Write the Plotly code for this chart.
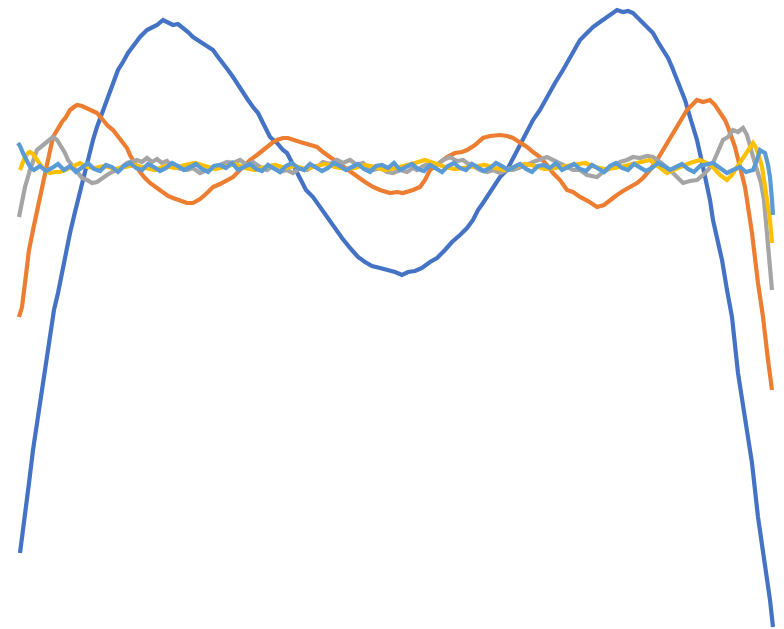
import plotly.graph_objects as go

# Readings as (sample position, displacement) pairs; displacement measured downward
blue_pts = [(20,553),(25,517),(29,483),(33,450),(38,417),(43,387),(47,360),(50,337),(54,310),(58,293),(63,267),(70,233),(75,212),(78,200),(83,180),(88,157),(93,140),(97,127),(103,110),(108,97),(113,83),(118,70),(123,62),(128,53),(134,45),(140,37),(147,30),(152,28),(157,25),(163,20),(168,23),(173,25),(178,24),(182,27),(188,32),(193,37),(198,40),(203,43),(208,46),(213,50),(218,57),(223,63),(228,70),(233,77),(238,85),(243,93),(248,100),(253,107),(258,113),(263,123),(267,132),(270,137),(277,143),(283,150),(287,153),(293,165),(300,180),(306,190),(313,197),(320,207),(327,217),(335,228),(342,238),(350,248),(358,257),(365,262),(372,266),(380,268),(388,270),(395,272),(402,275),(408,272),(415,271),(422,268),(430,262),(437,258),(445,250),(452,242),(460,235),(467,228),(473,220),(478,210),(483,203),(488,195),(493,187),(500,177),(507,170),(512,160),(517,150),(522,140),(527,130),(533,120),(540,110),(547,97),(555,83),(563,70),(570,57),(580,40),(587,33),(593,27),(600,22),(607,17),(612,13),(617,10),(623,12),(628,11),(633,13),(638,18),(643,23),(648,28),(653,33),(658,42),(663,50),(668,58),(672,67),(678,83),(685,100),(690,117),(697,140),(703,167),(710,200),(713,220),(718,240),(722,260),(727,290),(732,317),(738,373),(745,420),(752,463),(758,517),(763,550),(767,575),(770,600),(773,627)]

orange_pts = [(19,317),(22,307),(25,283),(29,250),(33,230),(39,200),(44,175),(48,160),(53,137),(58,128),(62,122),(66,117),(70,110),(74,107),(77,105),(82,106),(87,108),(92,110),(97,113),(103,120),(108,126),(113,130),(118,136),(123,143),(127,148),(130,155),(135,163),(140,172),(145,178),(150,183),(157,188),(163,193),(168,196),(173,198),(180,201),(187,203),(193,203),(200,199),(207,193),(213,187),(220,184),(227,180),(233,177),(240,170),(245,165),(250,160),(257,155),(263,150),(267,148),(272,143),(277,140),(283,138),(288,138),(293,140),(300,142),(307,144),(313,146),(317,147),(323,152),(330,157),(337,162),(343,167),(350,172),(357,177),(365,182),(373,187),(380,190),(390,193),(397,192),(403,193),(407,192),(413,190),(420,187),(425,180),(430,170),(437,165),(443,160),(447,157),(455,153),(462,152),(467,150),(475,145),(483,138),(490,136),(500,135),(507,136),(513,138),(520,142),(527,147),(533,152),(540,157),(547,165),(553,173),(560,180),(567,190),(573,192),(580,197),(588,201),(597,207),(604,205),(610,200),(617,195),(623,191),(630,187),(637,183),(643,178),(650,170),(657,160),(663,150),(670,138),(677,127),(682,118),(687,110),(692,105),(697,100),(703,102),(710,100),(715,105),(720,113),(725,120),(728,127),(732,137),(735,147),(740,167),(745,187),(747,200),(752,233),(758,283),(763,317),(768,360),(772,390)]

gray_pts = [(19,217),(22,200),(25,187),(30,170),(34,160),(37,150),(42,146),(47,142),(50,140),(53,137),(57,140),(62,147),(65,153),(68,160),(73,167),(78,173),(82,178),(87,180),(92,183),(97,182),(102,178),(107,175),(112,172),(117,170),(122,167),(127,163),(132,162),(137,160),(142,162),(147,158),(152,162),(157,159),(162,163),(167,161),(173,167),(180,168),(187,170),(193,168),(200,173),(207,170),(213,167),(220,165),(227,162),(233,163),(240,160),(247,165),(253,162),(260,167),(267,170),(273,166),(280,172),(287,170),(293,173),(300,168),(307,170),(313,166),(317,167),(323,162),(330,164),(337,160),(343,163),(350,160),(357,165),(363,163),(367,167),(373,170),(380,168),(387,172),(393,173),(400,170),(407,172),(413,168),(417,170),(423,166),(430,163),(437,165),(443,160),(450,157),(457,161),(463,160),(467,163),(473,166),(480,170),(487,172),(493,170),(500,173),(507,170),(513,170),(520,168),(527,165),(533,162),(540,160),(547,157),(553,160),(560,163),(567,167),(573,170),(580,170),(587,175),(593,176),(597,177),(603,172),(608,170),(613,167),(620,162),(627,160),(633,157),(640,158),(647,156),(653,157),(660,162),(665,166),(670,170),(677,177),(683,183),(690,181),(697,180),(703,175),(708,170),(713,163),(718,152),(723,140),(728,137),(733,130),(738,132),(743,128),(747,135),(750,147),(754,160),(757,170),(761,183),(764,200),(768,245),(772,290)]

yellow_pts = [(20,170),(23,162),(25,157),(28,153),(30,152),(33,154),(35,157),(38,162),(42,167),(46,171),(50,173),(55,172),(60,172),(65,170),(70,168),(75,165),(80,163),(87,167),(95,168),(105,166),(115,169),(125,167),(135,165),(145,168),(155,170),(165,166),(175,168),(185,165),(195,163),(205,166),(215,169),(225,167),(235,164),(245,168),(255,170),(265,167),(275,165),(285,168),(295,166),(305,169),(315,166),(325,164),(335,167),(345,169),(355,168),(365,165),(375,167),(385,170),(395,168),(405,166),(415,163),(425,160),(435,164),(445,167),(455,169),(465,168),(475,166),(485,165),(495,168),(505,170),(515,167),(525,164),(535,166),(545,169),(555,168),(565,166),(575,164),(585,163),(595,167),(605,169),(615,168),(625,166),(635,164),(645,162),(650,160),(655,164),(660,168),(667,173),(673,170),(680,167),(690,163),(700,160),(707,163),(713,167),(720,175),(727,180),(732,175),(737,167),(742,160),(747,153),(750,148),(753,143),(756,148),(758,153),(762,167),(765,187),(768,200),(770,220),(772,243)]

lightblue_pts = [(18,143),(20,146),(23,153),(26,160),(28,163),(31,168),(34,170),(40,166),(46,171),(52,168),(58,164),(64,170),(70,166),(76,172),(82,167),(88,163),(94,169),(100,171),(106,165),(112,167),(118,172),(124,166),(130,163),(136,168),(142,170),(148,164),(154,167),(160,171),(166,168),(172,163),(178,166),(184,170),(190,167),(196,164),(202,169),(208,172),(214,166),(220,165),(226,168),(232,163),(238,170),(244,167),(250,164),(256,169),(262,171),(268,165),(274,168),(280,172),(286,166),(292,163),(298,168),(304,170),(310,164),(316,167),(322,171),(328,168),(334,163),(340,166),(346,170),(352,167),(358,164),(364,169),(370,172),(376,166),(382,165),(388,168),(394,163),(400,170),(406,167),(412,164),(418,169),(424,171),(430,165),(436,168),(442,172),(448,166),(454,163),(460,168),(466,170),(472,164),(478,167),(484,171),(490,168),(496,163),(502,166),(508,170),(514,167),(520,164),(526,169),(532,172),(538,166),(544,165),(550,168),(556,163),(562,170),(568,167),(574,164),(580,169),(586,171),(592,165),(598,168),(604,172),(610,166),(616,163),(622,168),(628,170),(634,164),(640,167),(646,171),(652,168),(658,163),(664,166),(670,170),(676,167),(682,164),(688,169),(694,172),(700,166),(706,165),(713,163),(720,168),(727,173),(733,170),(740,167),(746,172),(753,170),(757,160),(760,150),(763,152),(765,153),(768,165),(770,177),(772,200),(773,215)]

fig = go.Figure()
fig.add_trace(go.Scatter(x=[p[0] for p in blue_pts], y=[p[1] for p in blue_pts], mode="lines",
                         line=dict(color="#4472C4", width=4.2)))
fig.add_trace(go.Scatter(x=[p[0] for p in orange_pts], y=[p[1] for p in orange_pts], mode="lines",
                         line=dict(color="#ED7D31", width=4.2)))
fig.add_trace(go.Scatter(x=[p[0] for p in gray_pts], y=[p[1] for p in gray_pts], mode="lines",
                         line=dict(color="#A5A5A5", width=4.2)))
fig.add_trace(go.Scatter(x=[p[0] for p in yellow_pts], y=[p[1] for p in yellow_pts], mode="lines",
                         line=dict(color="#FFC000", width=4.2)))
fig.add_trace(go.Scatter(x=[p[0] for p in lightblue_pts], y=[p[1] for p in lightblue_pts], mode="lines",
                         line=dict(color="#5B9BD5", width=4.2)))
fig.update_layout(
    width=784, height=629,
    margin=dict(l=0, r=0, t=0, b=0),
    paper_bgcolor="white", plot_bgcolor="white",
    showlegend=False,
    xaxis=dict(range=[0, 784], visible=False),
    yaxis=dict(range=[629, 0], visible=False),
)
fig.write_html("out.html")
